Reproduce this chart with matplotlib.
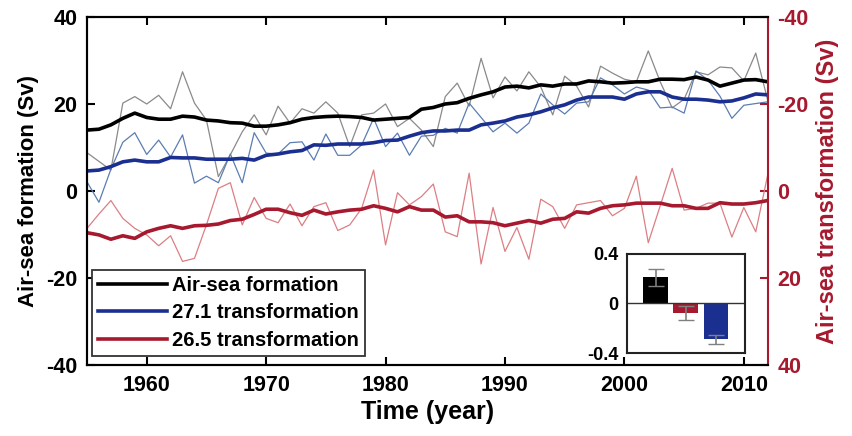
import numpy as np
import matplotlib.pyplot as plt

plt.rcParams['font.family'] = ['Liberation Sans', 'DejaVu Sans']
plt.rcParams['font.weight'] = 'bold'
plt.rcParams['axes.unicode_minus'] = False

years = np.arange(1955, 2013)

# air-sea formation (left axis, Sv): annual + smoothed
formation_annual = [8.8, 6.8, 4.8, 20.2, 21.7, 20.0, 22.0, 18.9, 27.4, 20.2,
                    16.3, 3.3, 8.3, 13.6, 17.5, 12.9, 19.5, 15.6, 18.9, 17.9,
                    20.5, 17.9, 10.2, 17.5, 17.9, 20.0, 14.8, 16.7, 14.0, 10.2,
                    21.7, 24.8, 19.5, 30.5, 21.4, 26.2, 23.0, 27.4, 23.9, 17.5,
                    26.4, 24.1, 19.3, 28.7, 27.1, 25.7, 25.1, 32.2, 25.1, 19.1,
                    21.1, 27.4, 26.7, 28.5, 28.3, 25.3, 31.7, 20.9]
formation_smooth = [14.0, 14.2, 15.2, 16.7, 17.9, 16.9, 16.5, 16.5, 17.2, 17.0,
                    16.3, 16.1, 15.7, 15.6, 14.9, 14.9, 15.2, 15.7, 16.5, 16.9,
                    17.1, 17.2, 17.1, 16.9, 16.3, 16.5, 16.7, 16.9, 18.8, 19.2,
                    20.0, 20.3, 21.3, 22.1, 22.8, 23.9, 24.1, 23.7, 24.4, 24.1,
                    24.6, 24.6, 25.3, 25.1, 24.8, 24.9, 25.1, 25.1, 25.7, 25.7,
                    25.6, 26.2, 25.5, 24.1, 24.8, 25.5, 25.6, 25.1]

# 27.1 transformation (left axis, Sv)
t271_annual = [2.1, -2.6, 5.0, 11.2, 13.4, 8.4, 11.7, 7.8, 12.9, 1.8,
               3.4, 1.9, 8.5, 1.9, 13.4, 8.7, 8.5, 11.1, 11.3, 7.1,
               13.1, 8.2, 8.2, 10.6, 16.7, 10.2, 13.3, 8.2, 12.6, 12.8,
               14.4, 13.3, 20.2, 16.9, 13.6, 15.6, 13.3, 15.6, 22.3, 19.8,
               17.7, 20.2, 20.5, 26.0, 24.4, 22.3, 23.9, 23.2, 19.1, 19.3,
               17.9, 27.6, 25.5, 21.8, 16.7, 19.7, 20.1, 20.5]
t271_smooth = [4.6, 4.8, 5.6, 6.7, 7.1, 6.7, 6.7, 7.7, 7.6, 7.6,
               7.3, 7.3, 7.3, 7.5, 7.1, 8.2, 8.5, 9.0, 9.3, 10.6,
               10.5, 10.8, 10.8, 10.8, 11.1, 11.6, 11.7, 12.6, 13.4, 13.8,
               13.8, 14.0, 14.0, 15.2, 15.6, 16.1, 17.0, 17.5, 18.2, 19.1,
               19.8, 20.9, 21.6, 21.6, 21.6, 21.1, 22.3, 22.8, 22.8, 21.6,
               21.1, 21.1, 20.9, 20.5, 20.7, 21.4, 22.3, 22.1]

# 26.5 transformation (right axis, Sv, axis reversed)
t265_annual = [8.6, 5.3, 2.2, 6.3, 8.6, 10.1, 12.6, 10.3, 16.2, 15.5,
               7.8, -0.6, -1.9, 7.8, 1.5, 6.3, 7.3, 3.0, 8.0, 3.6,
               2.7, 9.1, 7.8, 4.0, -4.8, 12.4, 0.4, 3.2, 1.3, -1.6,
               9.4, 10.5, -4.1, 16.8, 3.8, 13.9, 8.4, 15.7, 1.9, 3.6,
               8.6, 3.2, 2.7, 2.2, 5.7, 4.0, -3.4, 11.9, 3.4, -5.2,
               4.4, 4.0, 2.8, 2.8, 10.6, 3.8, 9.4, -3.7]
t265_smooth = [9.6, 10.1, 11.1, 10.3, 10.9, 9.4, 8.6, 8.0, 8.6, 8.0,
               7.9, 7.6, 6.8, 6.5, 5.4, 4.2, 4.2, 5.0, 5.6, 4.4,
               5.3, 4.8, 4.4, 4.2, 3.4, 4.0, 4.8, 3.6, 4.4, 4.4,
               6.0, 5.7, 7.1, 7.1, 7.3, 8.0, 7.4, 6.8, 7.4, 6.5,
               6.3, 4.8, 5.1, 4.0, 3.4, 3.2, 2.8, 2.8, 2.8, 3.4,
               3.4, 4.0, 4.0, 2.7, 3.0, 3.0, 2.7, 2.2]

# inset: trends with error
trend_vals = [0.21, -0.077, -0.29]
trend_err = [0.068, 0.056, 0.038]

black = '#000000'
gray = '#8a8a8a'
blue = '#1b2f91'
blue_thin = '#5b7db3'
red = '#a6192e'
red_thin = '#dc7f84'

fig = plt.figure(figsize=(8.53, 4.36), dpi=100)
ax = fig.add_axes([0.102, 0.163, 0.798, 0.798])
ax2 = ax.twinx()

ax.plot(years, formation_annual, color=gray, lw=0.9)
ax.plot(years, t271_annual, color=blue_thin, lw=0.9)
ax2.plot(years, t265_annual, color=red_thin, lw=0.9)
l1, = ax.plot(years, formation_smooth, color=black, lw=2.6)
l2, = ax.plot(years, t271_smooth, color=blue, lw=2.6)
l3, = ax2.plot(years, t265_smooth, color=red, lw=2.6)

ax.set_xlim(1955, 2012)
ax.set_ylim(-40, 40)
ax2.set_ylim(40, -40)
ax.set_yticks([-40, -20, 0, 20, 40])
ax2.set_yticks([-40, -20, 0, 20, 40])
ax.set_xticks([1960, 1970, 1980, 1990, 2000, 2010])

ax.tick_params(axis='both', direction='in', length=6, width=1.5, labelsize=15.5,
               top=True, pad=7)
ax2.tick_params(axis='y', direction='in', length=6, width=1.5, labelsize=15.5,
                colors=red, pad=7)
for s in ['left', 'top', 'bottom']:
    ax.spines[s].set_linewidth(1.5)
    ax2.spines[s].set_linewidth(1.5)
ax2.spines['right'].set_color(red)
ax2.spines['right'].set_linewidth(1.5)
ax.spines['right'].set_visible(False)

ax.set_xlabel('Time (year)', fontsize=18, fontweight='bold', labelpad=3)
ax.set_ylabel('Air-sea formation (Sv)', fontsize=16, fontweight='bold', labelpad=5)
ax2.set_ylabel('Air-sea transformation (Sv)', fontsize=17, fontweight='bold',
               color=red, labelpad=5)

leg = ax2.legend([l1, l2, l3], ['Air-sea formation', '27.1 transformation',
                                '26.5 transformation'],
                 loc='lower left', bbox_to_anchor=(0.008, 0.026), borderaxespad=0,
                 prop={'size': 14.5, 'weight': 'bold'}, fancybox=False,
                 framealpha=1, edgecolor='#333333', handlelength=3.4,
                 borderpad=0.3, labelspacing=0.42, handletextpad=0.25)
leg.get_frame().set_linewidth(1.3)

# inset bar chart
ins = fig.add_axes([0.735, 0.19, 0.138, 0.228])
ins.bar([1, 2, 3], trend_vals, width=0.82, color=[black, red, blue],
        yerr=trend_err, ecolor='#808080', capsize=6, error_kw={'elinewidth': 1.2})
ins.axhline(0, color='#333333', lw=1)
ins.set_xlim(0.05, 3.95)
ins.set_ylim(-0.4, 0.4)
ins.set_yticks([-0.4, 0, 0.4])
ins.set_yticklabels(['-0.4', '0', '0.4'])
ins.set_xticks([])
ins.tick_params(axis='y', length=0, labelsize=13, pad=6)
for s in ins.spines.values():
    s.set_linewidth(1.5)
    s.set_color('#222222')

fig.savefig('out.png', dpi=100)
